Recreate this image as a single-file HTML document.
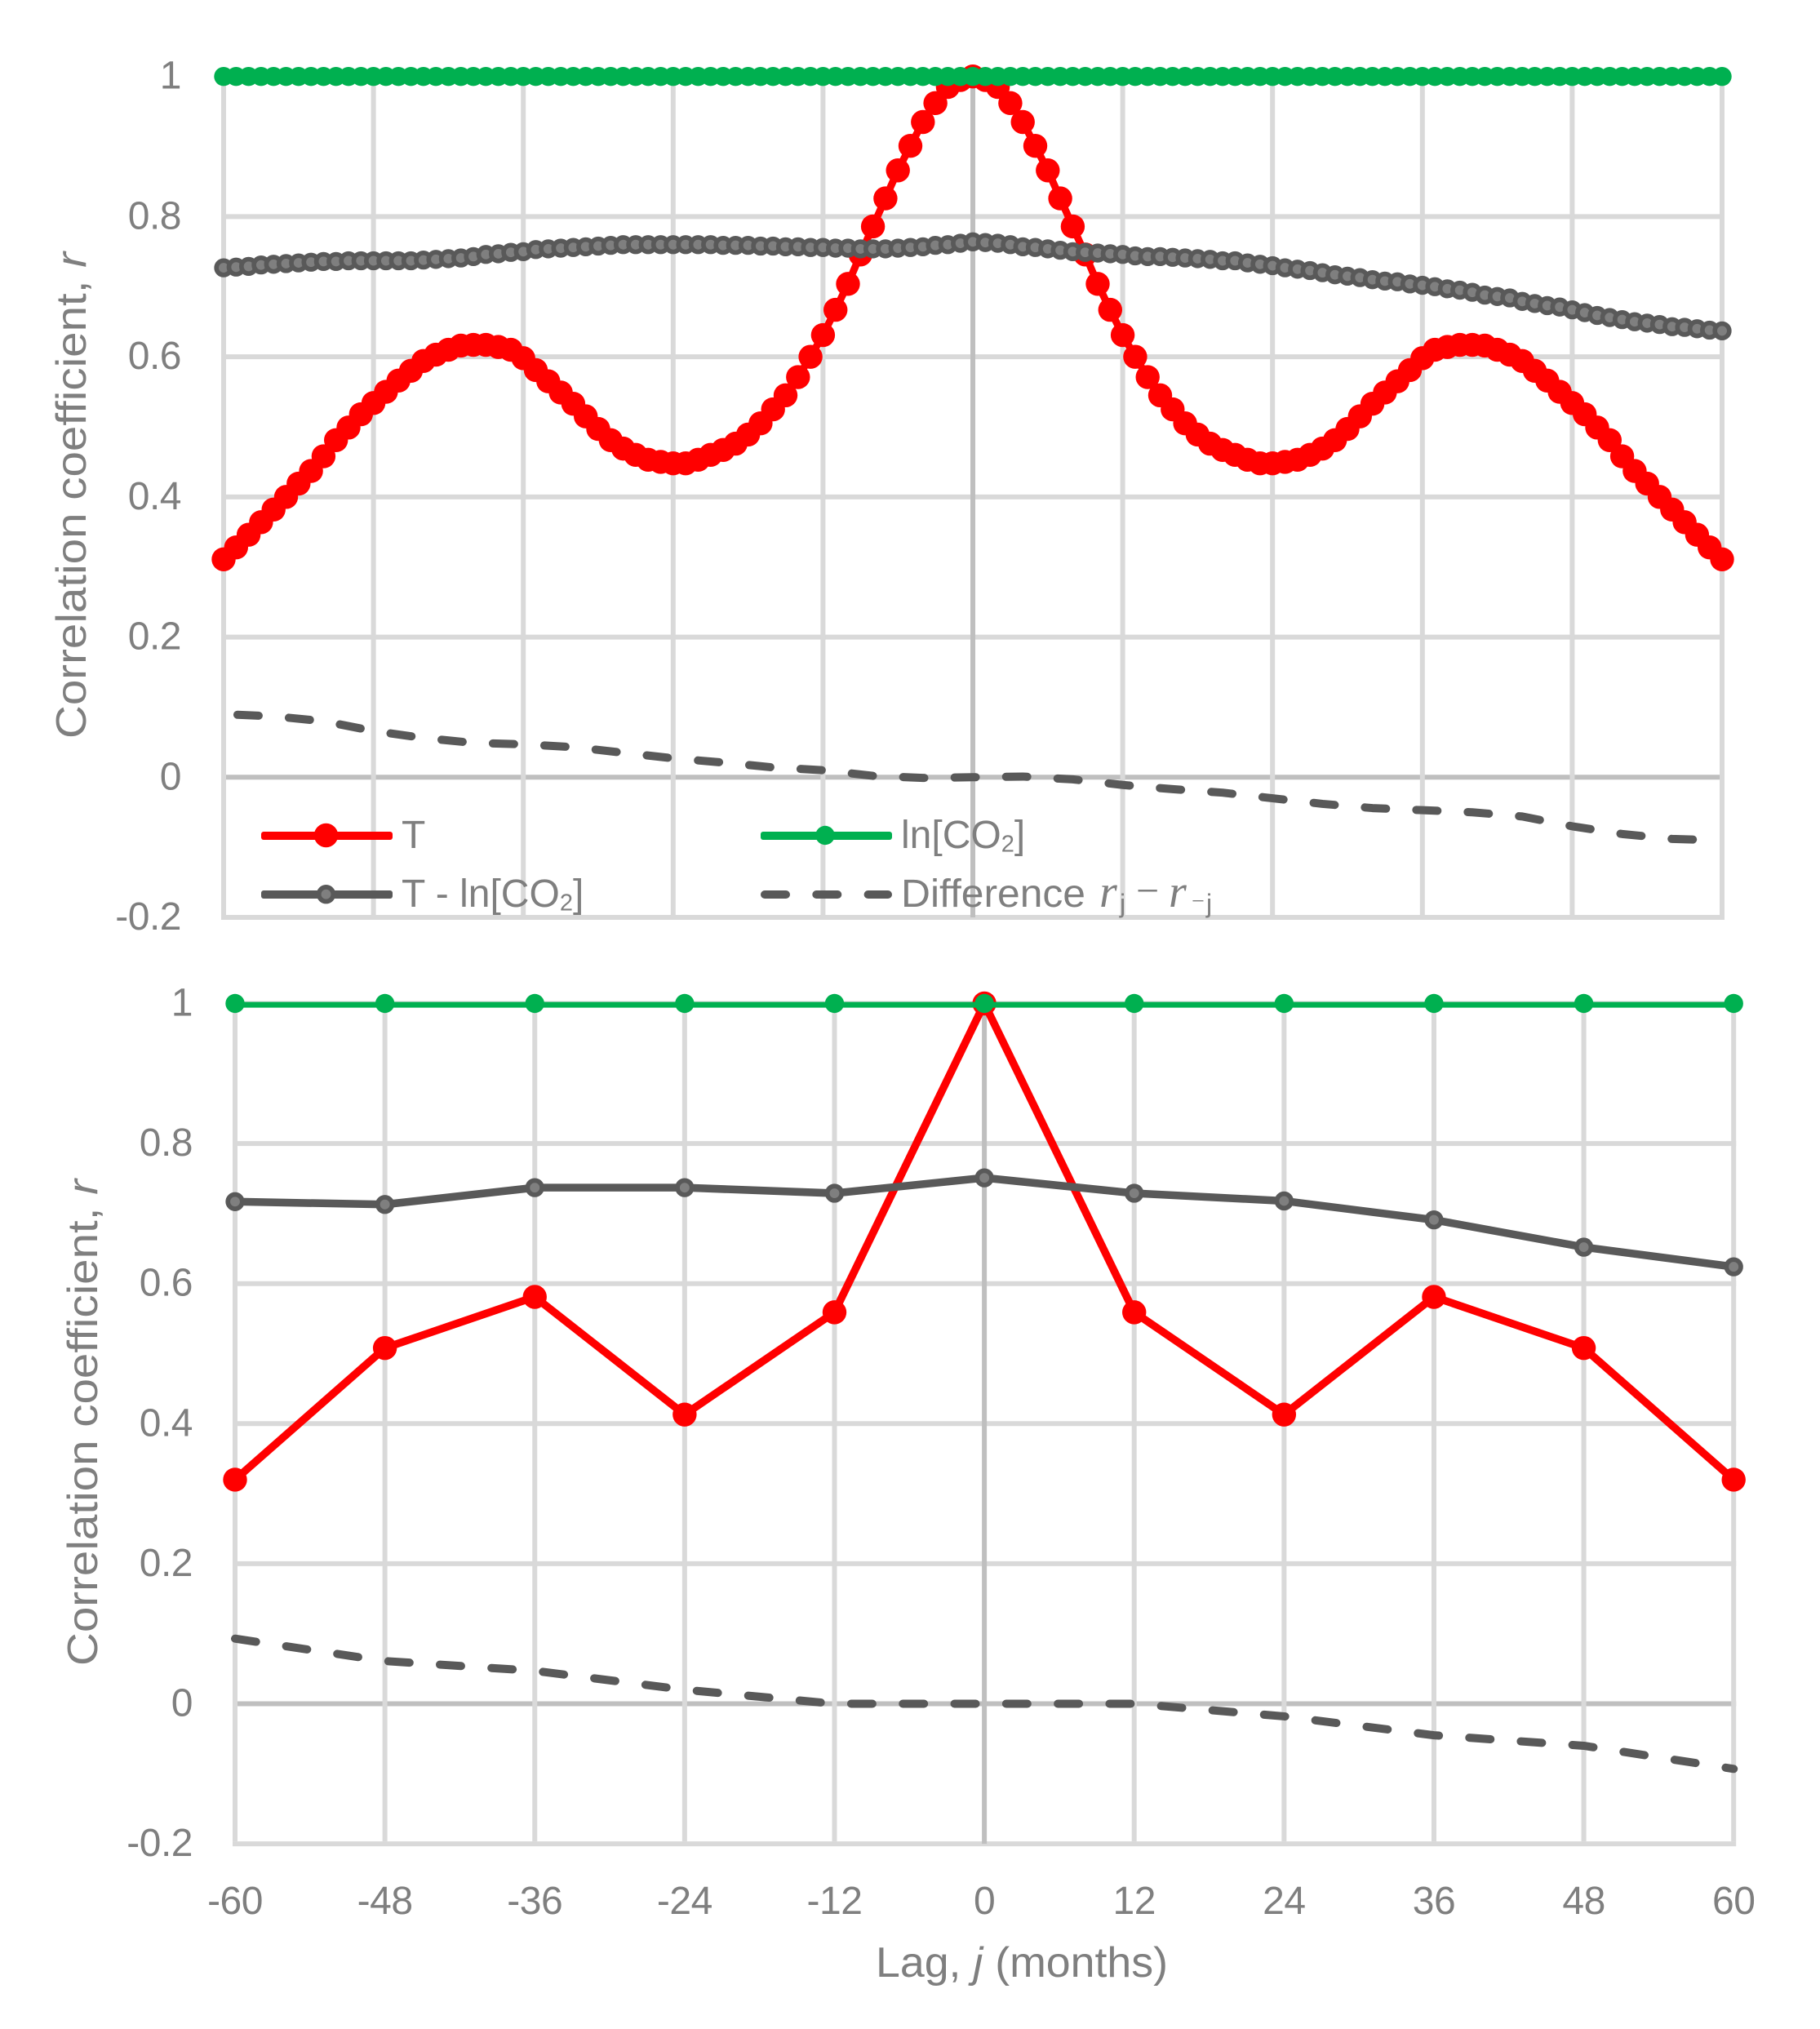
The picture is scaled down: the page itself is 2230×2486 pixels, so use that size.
<!DOCTYPE html>
<html lang="en">
<head>
<meta charset="utf-8">
<title>Correlation coefficient vs lag</title>
<style>
html,body{margin:0;padding:0;background:#fff;}
svg{display:block;}
text{font-family:"Liberation Sans",sans-serif;fill:#7f7f7f;}
.ital{font-style:italic;}
.math{font-family:"Liberation Serif",serif;font-style:italic;}
.serif{font-family:"Liberation Serif",serif;}
</style>
</head>
<body>
<svg id="figure" xmlns="http://www.w3.org/2000/svg" width="2230" height="2486" viewBox="0 0 2230 2486">
  <rect x="0" y="0" width="2230" height="2486" fill="#ffffff"/>
  <g id="top-chart"></g>
  <g id="bottom-chart"></g>

  <text transform="translate(105,905) rotate(-90)" font-size="52" textLength="596" lengthAdjust="spacingAndGlyphs">Correlation coefficient, <tspan class="ital">r</tspan></text>
  <text transform="translate(119,2041) rotate(-90)" font-size="52" textLength="596" lengthAdjust="spacingAndGlyphs">Correlation coefficient, <tspan class="ital">r</tspan></text>
  <text x="1073" y="2422" font-size="52" textLength="358" lengthAdjust="spacingAndGlyphs">Lag, <tspan class="ital">j</tspan> (months)</text>

  <g>
    <g>
      <rect x="320" y="1019" width="161" height="10" rx="3" fill="#ff0000"/>
      <circle cx="399.5" cy="1023.5" r="14.7" fill="#ff0000"/>
      <text x="492" y="1039" font-size="48">T</text>
    </g>
    <g>
      <rect x="932" y="1019" width="161" height="10" rx="3" fill="#00b050"/>
      <circle cx="1011" cy="1023.5" r="11.7" fill="#00b050"/>
      <text x="1104" y="1039" font-size="48">ln[CO<tspan font-size="29" dy="4.5">2</tspan><tspan dy="-4.5">]</tspan></text>
    </g>
    <g>
      <rect x="320" y="1091" width="161" height="10" rx="3" fill="#595959"/>
      <circle cx="399.5" cy="1095.7" r="8.8" fill="#7f7f7f" stroke="#595959" stroke-width="5.7"/>
      <text x="492" y="1111" font-size="48">T - ln[CO<tspan font-size="29" dy="4.5">2</tspan><tspan dy="-4.5">]</tspan></text>
    </g>
    <g>
      <line x1="937" y1="1096" x2="1088" y2="1096" stroke="#595959" stroke-width="10" stroke-linecap="round" stroke-dasharray="26 37.3"/>
      <text x="1104" y="1111" font-size="48" textLength="226" lengthAdjust="spacingAndGlyphs">Difference</text>
      <text font-size="56"><tspan class="math" x="1347" y="1111">r</tspan><tspan x="1372" y="1118" font-size="32">j</tspan><tspan class="serif" x="1392" y="1108" font-size="50">−</tspan><tspan class="math" x="1432" y="1111">r</tspan><tspan class="serif" x="1460" y="1113" font-size="28">−</tspan><tspan x="1478" y="1118" font-size="32">j</tspan></text>
    </g>
  </g>
</svg>

<script>
const yTickValues = [1, 0.8, 0.6, 0.4, 0.2, 0, -0.2];
const yTickLabels = ["1", "0.8", "0.6", "0.4", "0.2", "0", "-0.2"];
const xTickValues = [-60, -48, -36, -24, -12, 0, 12, 24, 36, 48, 60];
const xTickLabels = ["-60", "-48", "-36", "-24", "-12", "0", "12", "24", "36", "48", "60"];

const monthlyLags = [
-60,-59,-58,-57,-56,-55,-54,-53,-52,-51,-50,-49,-48,-47,-46,-45,-44,-43,-42,-41,
-40,-39,-38,-37,-36,-35,-34,-33,-32,-31,-30,-29,-28,-27,-26,-25,-24,-23,-22,-21,
-20,-19,-18,-17,-16,-15,-14,-13,-12,-11,-10,-9,-8,-7,-6,-5,-4,-3,-2,-1,
0,
1,2,3,4,5,6,7,8,9,10,11,12,13,14,15,16,17,18,19,20,
21,22,23,24,25,26,27,28,29,30,31,32,33,34,35,36,37,38,39,40,
41,42,43,44,45,46,47,48,49,50,51,52,53,54,55,56,57,58,59,60];

const monthlyT = [
.311,.328,.346,.364,.382,.400,.419,.437,.458,.481,.499,.518,.534,.550,.566,.580,.594,.603,.610,.616,
.617,.617,.614,.610,.598,.581,.565,.549,.533,.515,.497,.481,.469,.460,.453,.450,.448,.448,.453,.460,
.467,.476,.489,.505,.525,.545,.571,.600,.631,.667,.704,.746,.786,.826,.866,.901,.935,.962,.985,.995,
1.000,
.995,.985,.962,.935,.901,.866,.826,.786,.746,.704,.667,.631,.600,.571,.545,.525,.505,.489,.476,.467,
.460,.453,.448,.448,.450,.453,.460,.469,.481,.497,.515,.533,.549,.565,.581,.598,.610,.614,.617,.617,
.616,.610,.603,.594,.580,.566,.550,.534,.518,.499,.481,.458,.437,.419,.400,.382,.364,.346,.328,.311];

const monthlyCO2 = [
1,1,1,1,1,1,1,1,1,1,1,1,1,1,1,1,1,1,1,1,
1,1,1,1,1,1,1,1,1,1,1,1,1,1,1,1,1,1,1,1,
1,1,1,1,1,1,1,1,1,1,1,1,1,1,1,1,1,1,1,1,
1,
1,1,1,1,1,1,1,1,1,1,1,1,1,1,1,1,1,1,1,1,
1,1,1,1,1,1,1,1,1,1,1,1,1,1,1,1,1,1,1,1,
1,1,1,1,1,1,1,1,1,1,1,1,1,1,1,1,1,1,1,1];

const monthlyTminusCO2 = [
.727,.728,.729,.731,.732,.733,.734,.735,.736,.736,
.737,.737,.737,.737,.737,.737,.738,.739,.740,.741,
.743,.746,.747,.749,.750,.753,.754,.755,.756,.757,
.758,.759,.760,.760,.760,.760,.760,.760,.760,.760,
.759,.759,.759,.758,.758,.757,.757,.756,.756,.755,
.755,.754,.754,.754,.755,.756,.757,.759,.760,.762,
.764,
.763,.762,.760,.757,.756,.754,.752,.750,.749,.748,
.747,.746,.744,.743,.743,.742,.741,.740,.739,.737,
.737,.734,.732,.730,.727,.725,.723,.720,.717,.715,
.713,.710,.708,.707,.704,.702,.700,.697,.695,.692,
.688,.686,.684,.679,.676,.673,.671,.667,.663,.659,
.656,.653,.650,.648,.646,.643,.642,.640,.638,.637];

const monthlyDiffLags = [-60,-56,-52,-48,-44,-40,-36,-32,-28,-24,-20,-16,-12,-8,-4,0,4,8,12,16,20,24,28,32,36,40,44,48,52,56,60];
const monthlyDiff = [.090,.087,.080,.066,.056,.049,.047,.043,.035,.027,.021,.014,.010,.002,-.001,0,.001,-.003,-.011,-.017,-.022,-.030,-.038,-.044,-.047,-.050,-.056,-.070,-.081,-.088,-.090];

const yearlyLags = [-60,-48,-36,-24,-12,0,12,24,36,48,60];
const yearlyT = [.320,.508,.581,.413,.559,1,.559,.413,.581,.508,.320];
const yearlyCO2 = [1,1,1,1,1,1,1,1,1,1,1];
const yearlyTminusCO2 = [.717,.713,.737,.737,.729,.751,.729,.718,.691,.652,.624];
const yearlyDiff = [.093,.061,.047,.020,0,0,0,-.018,-.045,-.060,-.093];

const SVGNS = "http://www.w3.org/2000/svg";

function xAxis(frame) {
  return function (lag) { return frame.xLeft + (lag + 60) * (frame.xRight - frame.xLeft) / 120; };
}
function yAxis(frame) {
  return function (r) { return frame.yZero - r * frame.unit; };
}
function make(parent, tag) {
  const el = document.createElementNS(SVGNS, tag);
  parent.appendChild(el);
  return el;
}
function segment(parent, x1, y1, x2, y2, color, width) {
  const l = make(parent, "line");
  l.setAttribute("x1", x1);
  l.setAttribute("y1", y1);
  l.setAttribute("x2", x2);
  l.setAttribute("y2", y2);
  l.setAttribute("stroke", color);
  l.setAttribute("stroke-width", width);
  return l;
}

function drawAxes(root, frame, showXLabels) {
  const x = xAxis(frame), y = yAxis(frame);
  yTickValues.forEach(function (v, i) {
    const l = segment(root, x(-60) - 3, y(v), x(60) + 3, y(v), v === 0 ? "#bfbfbf" : "#d9d9d9", 6);
    
    
    const t = make(root, "text");
    
    
    t.setAttribute("x", frame.xLeft - 52);
    t.setAttribute("y", y(v) + 15);
    t.setAttribute("text-anchor", "end");
    t.setAttribute("font-size", "48");
    t.setAttribute("letter-spacing", "-0.5");
    t.textContent = yTickLabels[i];
  });
  xTickValues.forEach(function (v) {
    const l = segment(root, x(v), y(1), x(v), y(-0.2) - (v === 0 ? 0 : 3), v === 0 ? "#bfbfbf" : "#d9d9d9", 6);
    
    
  });
  if (showXLabels) {
    xTickValues.forEach(function (v, i) {
      const t = make(root, "text");
      
      
      t.setAttribute("x", x(v));
      t.setAttribute("y", 2345);
      t.setAttribute("text-anchor", "middle");
      t.setAttribute("font-size", "48");
      t.setAttribute("letter-spacing", "-0.5");
      t.textContent = xTickLabels[i];
    });
  }
}

function pathFor(frame, lags, values) {
  const x = xAxis(frame), y = yAxis(frame);
  return lags.map(function (lag, i) {
    return (i ? "L" : "M") + x(lag).toFixed(2) + " " + y(values[i]).toFixed(2);
  }).join(" ");
}

function drawLine(root, frame, lags, values, color, width, dash, offset) {
  const p = make(root, "path");
  p.setAttribute("d", pathFor(frame, lags, values));
  p.setAttribute("fill", "none");
  p.setAttribute("stroke", color);
  p.setAttribute("stroke-width", width);
  p.setAttribute("stroke-linejoin", "round");
  if (dash) {
    p.setAttribute("stroke-dasharray", dash);
    p.setAttribute("stroke-dashoffset", offset);
    p.setAttribute("stroke-linecap", "round");
  }
  return p;
}

function drawMarkers(root, frame, lags, values, r, fill, stroke, strokeWidth) {
  const x = xAxis(frame), y = yAxis(frame);
  lags.forEach(function (lag, i) {
    const c = make(root, "circle");
    
    
    c.setAttribute("cx", x(lag).toFixed(2));
    c.setAttribute("cy", y(values[i]).toFixed(2));
    c.setAttribute("r", r);
    c.setAttribute("fill", fill);
    if (stroke) {
      c.setAttribute("stroke", stroke);
      c.setAttribute("stroke-width", strokeWidth);
    }
  });
}

const topFrame = { xLeft: 274, xRight: 2110, yZero: 952.3, unit: 858.6 };
const bottomFrame = { xLeft: 288, xRight: 2124.2, yZero: 2087.5, unit: 858 };

const topRoot = document.getElementById("top-chart");
const bottomRoot = document.getElementById("bottom-chart");

drawAxes(topRoot, topFrame, false);
drawAxes(bottomRoot, bottomFrame, true);

/* top chart series */
const topTLine = drawLine(topRoot, topFrame, monthlyLags, monthlyT, "#ff0000", 9);


drawMarkers(topRoot, topFrame, monthlyLags, monthlyT, 14.7, "#ff0000");
const topCO2Line = drawLine(topRoot, topFrame, monthlyLags, monthlyCO2, "#00b050", 8);


drawMarkers(topRoot, topFrame, monthlyLags, monthlyCO2, 11.7, "#00b050");
const topGrayLine = drawLine(topRoot, topFrame, monthlyLags, monthlyTminusCO2, "#595959", 9);


drawMarkers(topRoot, topFrame, monthlyLags, monthlyTminusCO2, 8.8, "#7f7f7f", "#595959", 5.7);
const topDiffLine = drawLine(topRoot, topFrame, monthlyDiffLags, monthlyDiff, "#595959", 10, "26 37.07", 46.1);



/* bottom chart series */
const botTLine = drawLine(bottomRoot, bottomFrame, yearlyLags, yearlyT, "#ff0000", 9.5);


drawMarkers(bottomRoot, bottomFrame, yearlyLags, yearlyT, 14.7, "#ff0000");
const botCO2Line = drawLine(bottomRoot, bottomFrame, yearlyLags, yearlyCO2, "#00b050", 7);


botCO2Line.setAttribute("transform", "translate(0,1.6)");
drawMarkers(bottomRoot, bottomFrame, yearlyLags, yearlyCO2, 11.7, "#00b050");
const botGrayLine = drawLine(bottomRoot, bottomFrame, yearlyLags, yearlyTminusCO2, "#595959", 9.5);


drawMarkers(bottomRoot, bottomFrame, yearlyLags, yearlyTminusCO2, 8.8, "#7f7f7f", "#595959", 5.7);
const botDiffLine = drawLine(bottomRoot, bottomFrame, yearlyLags, yearlyDiff, "#595959", 10, "26 37.3", 0);


</script>
</body>
</html>
